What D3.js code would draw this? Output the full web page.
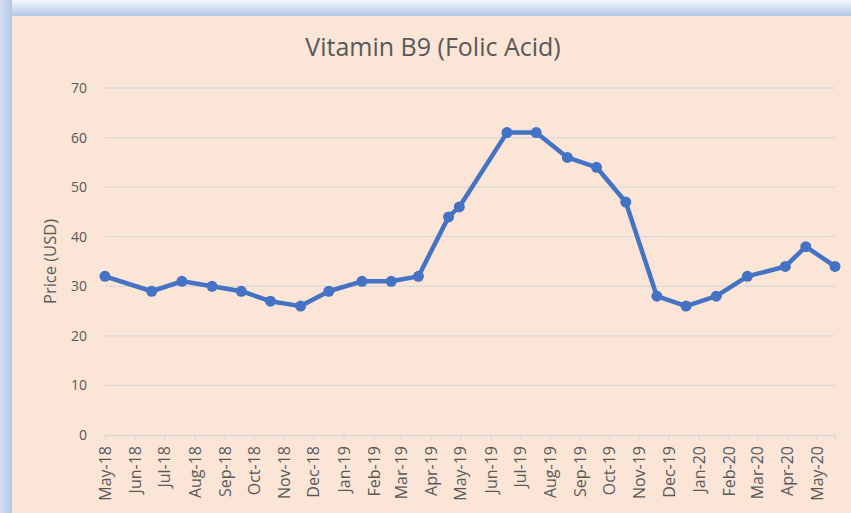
<!DOCTYPE html>
<html>
<head>
<meta charset="utf-8">
<script src="https://cdn.jsdelivr.net/npm/d3@7"></script>
<style>
  html, body { margin: 0; padding: 0; background: #fff; }
  svg { display: block; }
  text { font-family: "Open Sans", "Noto Sans", sans-serif; fill: #595959; }
</style>
</head>
<body>
<svg id="chart" width="851" height="513"></svg>
<script>
// price points (date, USD)
const dates = [
  "2018-05-01", "2018-06-18", "2018-07-19", "2018-08-19", "2018-09-18",
  "2018-10-18", "2018-11-18", "2018-12-17", "2019-01-20", "2019-02-19",
  "2019-03-19", "2019-04-19", "2019-04-30", "2019-06-18", "2019-07-18",
  "2019-08-19", "2019-09-18", "2019-10-18", "2019-11-19", "2019-12-19",
  "2020-01-19", "2020-02-20", "2020-03-30", "2020-04-20", "2020-05-20"
];
const prices = [
  32, 29, 31, 30, 29,
  27, 26, 29, 31, 31,
  32, 44, 46, 61, 61,
  56, 54, 47, 28, 26,
  28, 32, 34, 38, 34
];
const yTicks = [0, 10, 20, 30, 40, 50, 60, 70];
const title = "Vitamin B9 (Folic Acid)";
const yLabel = "Price (USD)";

const width = 851;
const height = 513;
const margin = { top: 88, right: 16, bottom: 78, left: 105 };

const parse = d3.timeParse("%Y-%m-%d");
const data = dates.map((d, i) => ({ date: parse(d), price: prices[i] }));

const svg = d3.select("#chart");

// bluish glow round the chart box
const defs = svg.append("defs");
const gTop = defs.append("linearGradient").attr("id", "glowTop")
  .attr("x1", 0).attr("y1", 0).attr("x2", 0).attr("y2", 1);
gTop.append("stop").attr("offset", "0%").attr("stop-color", "#f4f7fc");
gTop.append("stop").attr("offset", "100%").attr("stop-color", "#b4c7e7");
const gLeft = defs.append("linearGradient").attr("id", "glowLeft")
  .attr("x1", 0).attr("y1", 0).attr("x2", 1).attr("y2", 0);
gLeft.append("stop").attr("offset", "0%").attr("stop-color", "#d3dff3");
gLeft.append("stop").attr("offset", "100%").attr("stop-color", "#b4c7e7");

svg.append("rect").attr("width", width).attr("height", height).attr("fill", "#fff");
svg.append("rect").attr("x", 0).attr("y", 0).attr("width", 12).attr("height", height)
  .attr("fill", "url(#glowLeft)");
svg.append("rect").attr("x", 12).attr("y", 0).attr("width", width - 12).attr("height", 16)
  .attr("fill", "url(#glowTop)");
svg.append("rect").attr("x", 12).attr("y", 16).attr("width", width - 12).attr("height", height - 16)
  .attr("fill", "#fbe5d6");

const x = d3.scaleTime()
  .domain(d3.extent(data, d => d.date))
  .range([margin.left, width - margin.right]);

const y = d3.scaleLinear()
  .domain([0, 70])
  .range([height - margin.bottom, margin.top]);

// gridlines
svg.append("g")
  .selectAll("line")
  .data(yTicks.filter(t => t > 0))
  .join("line")
  .attr("x1", margin.left)
  .attr("x2", width - margin.right)
  .attr("y1", d => y(d))
  .attr("y2", d => y(d))
  .attr("stroke", "#d9d9d9")
  .attr("stroke-width", 1.3);

// y axis labels
const yAxis = svg.append("g")
  .attr("transform", `translate(${margin.left}, 0)`)
  .call(d3.axisLeft(y).tickValues(yTicks).tickSize(0).tickPadding(18));
yAxis.select(".domain").remove();
yAxis.selectAll("text").style("font-size", "14px").attr("fill", "#595959");

// x axis with month ticks
const months = d3.timeMonth.range(parse("2018-05-01"), parse("2020-05-02"));
const xAxis = svg.append("g")
  .attr("transform", `translate(0, ${height - margin.bottom})`)
  .call(d3.axisBottom(x).tickValues(months).tickFormat(d3.timeFormat("%b-%y"))
    .tickSizeOuter(0).tickSize(5));
xAxis.select(".domain").attr("stroke", "#d9d9d9").attr("stroke-width", 1.3);
xAxis.selectAll(".tick line").attr("stroke", "#d9d9d9").attr("stroke-width", 1.3);
xAxis.selectAll("text")
  .style("font-size", "16px")
  .attr("fill", "#595959")
  .attr("transform", "rotate(-90)")
  .attr("text-anchor", "end")
  .attr("x", -11)
  .attr("y", 0)
  .attr("dy", "0.35em");

// line + markers
const line = d3.line()
  .x(d => x(d.date))
  .y(d => y(d.price));

svg.append("path")
  .datum(data)
  .attr("d", line)
  .attr("fill", "none")
  .attr("stroke", "#4472c4")
  .attr("stroke-width", 4.5)
  .attr("stroke-linejoin", "round");

svg.append("g")
  .selectAll("circle")
  .data(data)
  .join("circle")
  .attr("cx", d => x(d.date))
  .attr("cy", d => y(d.price))
  .attr("r", 5.5)
  .attr("fill", "#4472c4");

// title
svg.append("text")
  .attr("x", 433)
  .attr("y", 56)
  .attr("text-anchor", "middle")
  .style("font-size", "25px")
  .text(title);

// y axis title
svg.append("text")
  .attr("transform", `translate(56, ${y(35)}) rotate(-90)`)
  .attr("text-anchor", "middle")
  .style("font-size", "16.5px")
  .text(yLabel);
</script>
</body>
</html>
